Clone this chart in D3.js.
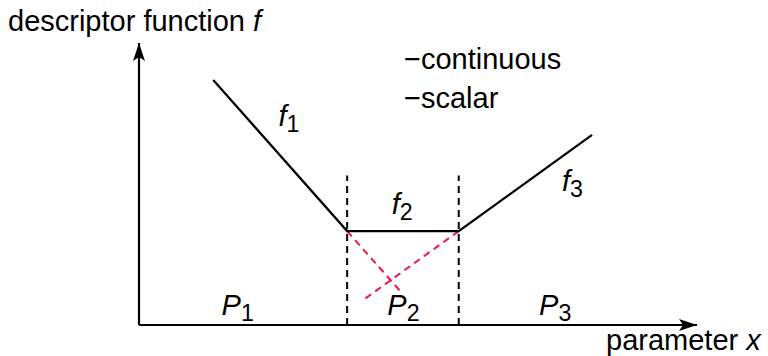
<!DOCTYPE html>
<html>
<head>
<meta charset="utf-8">
<script src="https://cdn.jsdelivr.net/npm/d3@7"></script>
<style>
  body { margin: 0; background: #fff; }
  svg { font-family: Arial, "Liberation Sans", sans-serif; }
</style>
</head>
<body>
<div id="chart"></div>
<script>
/* DATA */
// corners of the piecewise descriptor function (parameter units 0..100)
const knotX = [13.3, 37.3, 57.3, 81.2];
const knotY = [86.9, 33.3, 33.3, 67.4];
// partition boundaries
const bounds = [37.3, 57.3];
// red dashed extensions of f1 and f3 into P2
const extF1 = [[37.3, 33.3], [47.1, 11.4]];
const extF3 = [[57.3, 33.3], [40.5, 9.3]];
// labels
const fLabels = [
  { name: "f", sub: "1", x: 25.0, y: 70.5 },
  { name: "f", sub: "2", x: 45.3, y: 39.3 },
  { name: "f", sub: "3", x: 75.8, y: 47.5 }
];
const pLabels = [
  { name: "P", sub: "1", x: 14.8, y: 3.5 },
  { name: "P", sub: "2", x: 44.5, y: 3.5 },
  { name: "P", sub: "3", x: 71.7, y: 3.5 }
];
const legendItems = ["continuous", "scalar"];

/* CONSTANTS */
const width = 768, height = 356, fontSize = 29;
const origin = { x: 139, y: 325 };

const xScale = d3.scaleLinear().domain([0, 100]).range([origin.x, 697]);
const yScale = d3.scaleLinear().domain([0, 100]).range([origin.y, 43]);

const svg = d3.select("#chart")
  .append("svg")
  .attr("width", width)
  .attr("height", height);

svg.append("defs").append("marker")
  .attr("id", "arrow")
  .attr("viewBox", "0 0 18 12")
  .attr("refX", 18)
  .attr("refY", 6)
  .attr("markerWidth", 18)
  .attr("markerHeight", 12)
  .attr("markerUnits", "userSpaceOnUse")
  .attr("orient", "auto")
  .append("path")
  .attr("d", "M0,0 L18,6 L0,12 L4,6 Z")
  .attr("fill", "#000");

// axes
svg.append("line")
  .attr("x1", xScale(0)).attr("y1", yScale(0))
  .attr("x2", xScale(100)).attr("y2", yScale(0))
  .attr("stroke", "#000").attr("stroke-width", 2.2)
  .attr("marker-end", "url(#arrow)");

svg.append("line")
  .attr("x1", xScale(0)).attr("y1", yScale(0))
  .attr("x2", xScale(0)).attr("y2", yScale(100))
  .attr("stroke", "#000").attr("stroke-width", 2.2)
  .attr("marker-end", "url(#arrow)");

// partition boundaries
svg.selectAll(".bound")
  .data(bounds)
  .join("line")
  .attr("class", "bound")
  .attr("x1", d => xScale(d)).attr("x2", d => xScale(d))
  .attr("y1", yScale(0)).attr("y2", yScale(53))
  .attr("stroke", "#000").attr("stroke-width", 2)
  .attr("stroke-dasharray", "7,5");

// red extensions
const line = d3.line().x(d => xScale(d[0])).y(d => yScale(d[1]));
svg.selectAll(".ext")
  .data([extF1, extF3])
  .join("path")
  .attr("class", "ext")
  .attr("d", line)
  .attr("fill", "none")
  .attr("stroke", "#f0144c").attr("stroke-width", 2)
  .attr("stroke-dasharray", "7,5");

// descriptor function
svg.append("path")
  .datum(d3.zip(knotX, knotY))
  .attr("d", line)
  .attr("fill", "none")
  .attr("stroke", "#000").attr("stroke-width", 2.2);

// subscripted labels
function subLabel(sel, size) {
  sel.each(function(d) {
    const t = d3.select(this);
    t.append("tspan").attr("font-style", "italic").text(d.name);
    t.append("tspan").attr("dy", 6).attr("font-size", size * 0.8).text(d.sub);
  });
}

svg.selectAll(".flab")
  .data(fLabels)
  .join("text")
  .attr("class", "flab")
  .attr("x", d => xScale(d.x)).attr("y", d => yScale(d.y))
  .attr("font-size", fontSize)
  .call(subLabel, fontSize);

svg.selectAll(".plab")
  .data(pLabels)
  .join("text")
  .attr("class", "plab")
  .attr("x", d => xScale(d.x)).attr("y", d => yScale(d.y))
  .attr("font-size", fontSize)
  .call(subLabel, fontSize);

// notes
svg.selectAll(".note")
  .data(legendItems)
  .join("text")
  .attr("class", "note")
  .attr("x", 404)
  .attr("y", (d, i) => 69 + i * 39)
  .attr("font-size", fontSize)
  .text(d => "\u2212" + d);

// axis titles
const yTitle = svg.append("text")
  .attr("x", 8).attr("y", 31)
  .attr("font-size", fontSize);
yTitle.append("tspan").text("descriptor function ");
yTitle.append("tspan").attr("font-style", "italic").text("f");

const xTitle = svg.append("text")
  .attr("x", 606).attr("y", 350)
  .attr("font-size", fontSize);
xTitle.append("tspan").text("parameter ");
xTitle.append("tspan").attr("font-style", "italic").text("x");
</script>
</body>
</html>
